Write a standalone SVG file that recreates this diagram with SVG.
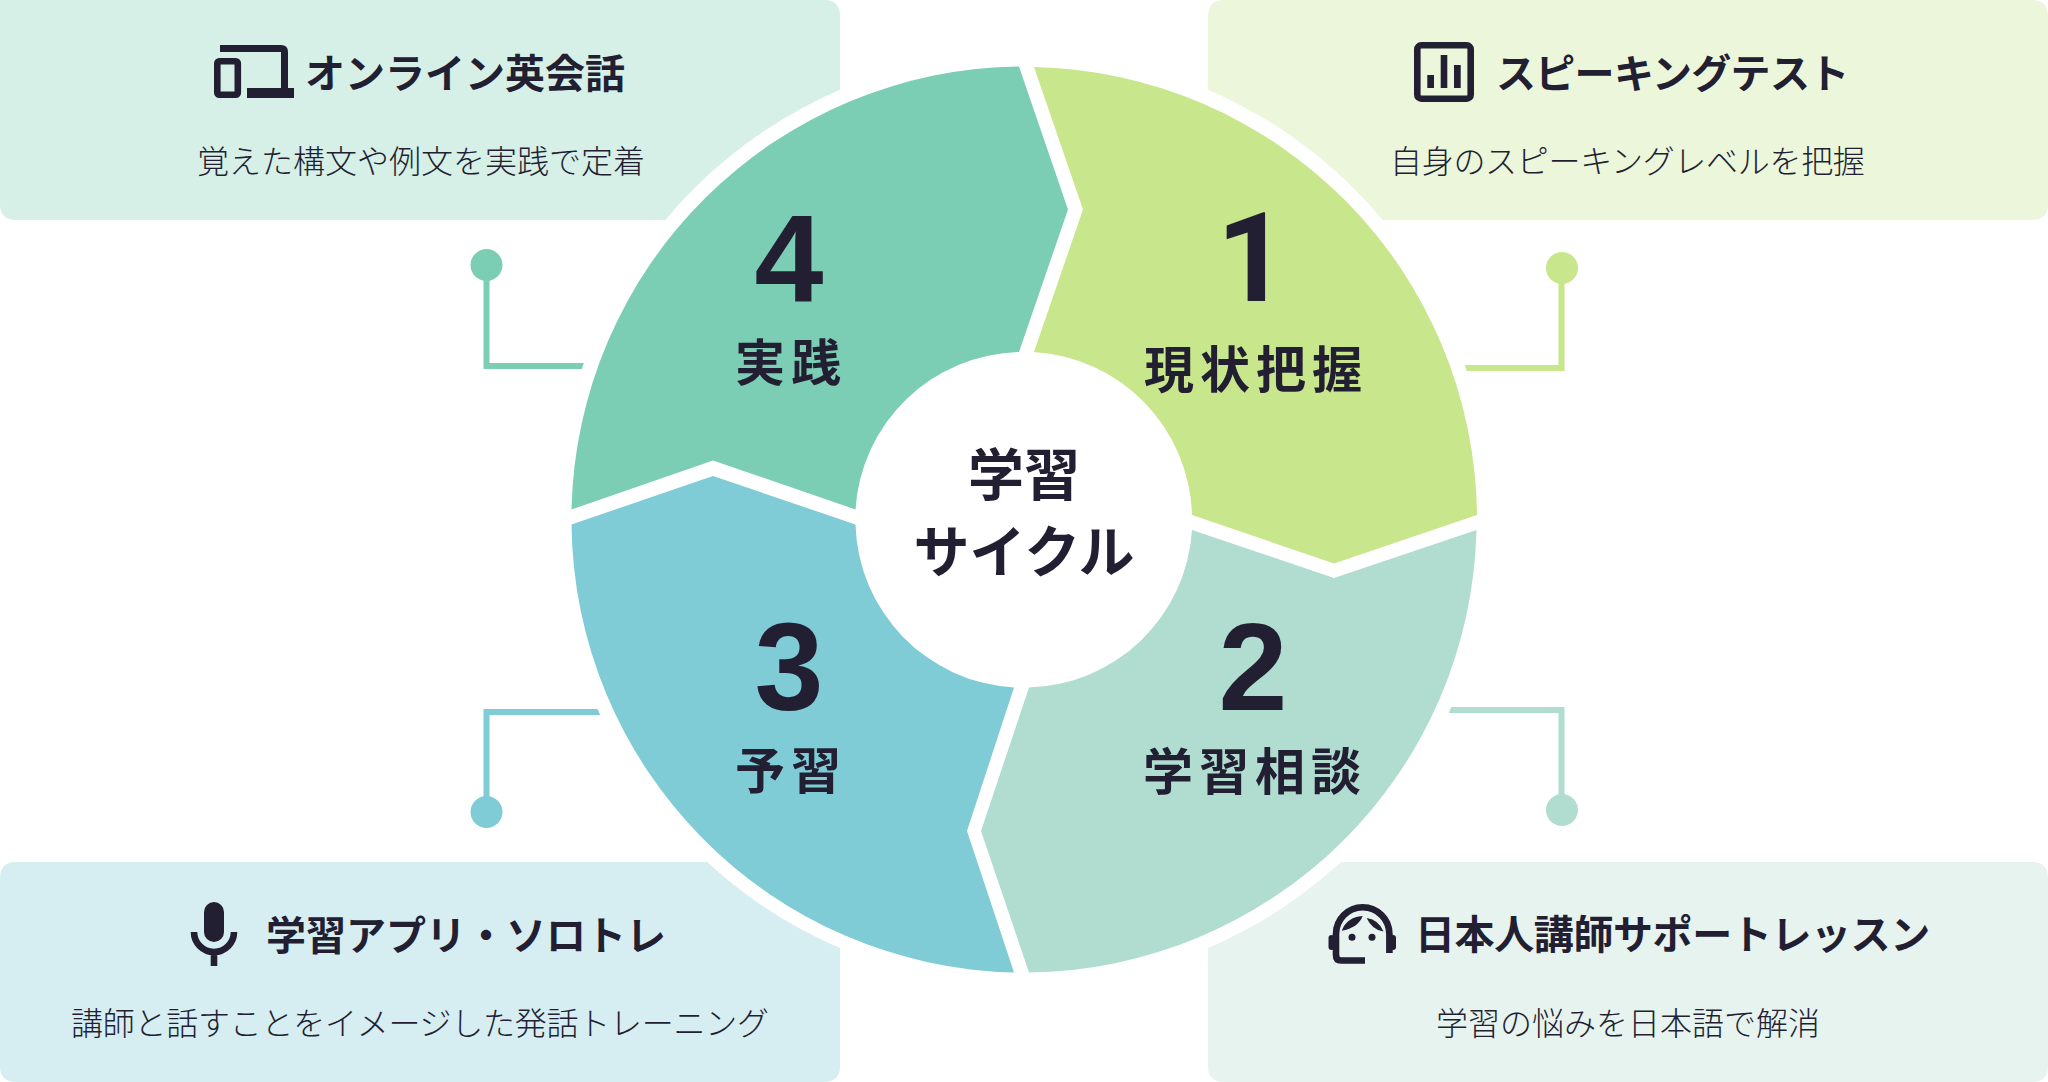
<svg xmlns="http://www.w3.org/2000/svg" width="2048" height="1082" viewBox="0 0 2048 1082">
<style>
text{font-family:"Noto Sans CJK JP","Noto Sans",sans-serif;fill:#221F33}
.t{font-size:40px;font-weight:700}
.s{font-size:32px;font-weight:300}
.n{font-family:"Liberation Sans",Arial,sans-serif;font-size:124px;font-weight:700;text-anchor:middle}
.r{font-family:Roboto,sans-serif}
.l{font-size:50px;font-weight:700;text-anchor:middle;letter-spacing:6px}
.c{font-size:56px;font-weight:700;text-anchor:middle}
.i{fill:#221F33}
.o{fill:none;stroke:#221F33;stroke-width:6.6}
.k{fill:none;stroke-width:6}
</style>
<rect width="2048" height="1082" fill="#fff"/>
<g id="cards">
<path fill="#D6F0E7" d="M0 0H824Q840 0 840 16V220H16Q0 220 0 204Z"/>
<path fill="#ECF6DB" d="M1208 16Q1208 0 1224 0H2032Q2048 0 2048 16V204Q2048 220 2032 220H1208Z"/>
<path fill="#D6EEF1" d="M0 878Q0 862 16 862H840V1066Q840 1082 824 1082H16Q0 1082 0 1066Z"/>
<path fill="#E6F3EF" d="M1208 862H2032Q2048 862 2048 878V1066Q2048 1082 2032 1082H1224Q1208 1082 1208 1066Z"/>
</g>
<g id="connectors">
<path class="k" stroke="#7BCEB4" d="M486.500 265V366H600"/><circle cx="486.500" cy="265" r="16" fill="#7BCEB4"/>
<path class="k" stroke="#C8E68B" d="M1561.500 268V368H1450"/><circle cx="1562" cy="268" r="16" fill="#C8E68B"/>
<path class="k" stroke="#7FCCD7" d="M486.500 812V712H620"/><circle cx="486.500" cy="812" r="16" fill="#7FCCD7"/>
<path class="k" stroke="#B0DDD0" d="M1561.500 810V710H1430"/><circle cx="1562" cy="810" r="16" fill="#B0DDD0"/>
</g>
<circle id="ring" cx="1024" cy="519" r="467" fill="#fff"/>
<g id="seg1">
<path fill="#C8E68B" d="M1034 67A453 453 0 0 1 1477 515L1334 563.500L1192 515A168 168 0 0 0 1034 352L1083 209.500Z"/>
<text class="n r" x="1252" y="301">1</text>
<text class="l" x="1256" y="388">現状把握</text>
</g>
<g id="seg2">
<path fill="#B0DDD0" d="M1476.500 530A453 453 0 0 1 1029 972.500L981 831L1029 687.500A168 168 0 0 0 1192 530L1334 578Z"/>
<text class="n" x="1253" y="710">2</text>
<text class="l" x="1255" y="790">学習相談</text>
</g>
<g id="seg3">
<path fill="#7FCCD7" d="M1014 972.500A453 453 0 0 1 571.500 524.500L713 476L855.500 524.500A168 168 0 0 0 1014 687.500L967 831Z"/>
<text class="n" x="789" y="710">3</text>
<text class="l" x="791" y="789">予習</text>
</g>
<g id="seg4">
<path fill="#7BCEB4" d="M571.500 509.500A453 453 0 0 1 1019 66.500L1068 209.500L1019 352A168 168 0 0 0 855.500 509.500L713 460.500Z"/>
<text class="n" x="789" y="301">4</text>
<text class="l" x="791" y="381">実践</text>
</g>
<g id="center">
<text class="c" x="1024" y="495">学習</text>
<text class="c" x="1024" y="572">サイクル</text>
</g>
<g id="card-online">
<path class="i" d="M220 45H281Q288 45 288 52V88H294V98H247V88H281V52H220Z"/>
<rect x="217.300" y="61.300" width="20.500" height="33.500" rx="2" class="o"/>
<text class="t" x="305" y="88">オンライン英会話</text>
<text class="s" x="197" y="173">覚えた構文や例文を実践で定着</text>
</g>
<g id="card-speaking">
<rect x="1417.300" y="45.300" width="53.400" height="53.400" rx="4" class="o"/>
<rect x="1427.300" y="75" width="6.700" height="13" class="i"/>
<rect x="1440.700" y="55" width="6.600" height="33" class="i"/>
<rect x="1454" y="65" width="6.700" height="23" class="i"/>
<text class="t" x="1496" y="88" letter-spacing="-0.7">スピーキングテスト</text>
<text class="s" x="1390" y="173" letter-spacing="-0.3">自身のスピーキングレベルを把握</text>
</g>
<g id="card-app">
<rect x="204" y="902" width="20" height="40" rx="10" class="i"/>
<path class="o" d="M194 932A20 20 0 0 0 234 932M214 952V966"/>
<text class="t" x="266" y="950">学習アプリ・ソロトレ</text>
<text class="s" x="71" y="1035" letter-spacing="-0.25">講師と話すことをイメージした発話トレーニング</text>
</g>
<g id="card-teacher">
<path class="o" d="M1336 934A26.700 26.700 0 0 1 1389.400 934V953M1336 934V955Q1336 960.500 1341 960.500H1365"/>
<rect x="1328.500" y="935" width="6" height="15" rx="3" class="i"/>
<rect x="1390" y="935" width="6" height="15" rx="3" class="i"/>
<path class="i" d="M1341.700 930.700Q1347 917 1362.700 916Q1358 928 1341.700 930.700Z"/>
<path class="i" d="M1366.700 918Q1379 920 1383.500 931.500Q1372 930 1366.700 918Z"/>
<circle cx="1352" cy="937.300" r="3.500" class="i"/>
<circle cx="1372" cy="937.300" r="3.500" class="i"/>
<text class="t" x="1415" y="949" letter-spacing="-0.4">日本人講師サポートレッスン</text>
<text class="s" x="1436" y="1035">学習の悩みを日本語で解消</text>
</g>
</svg>
